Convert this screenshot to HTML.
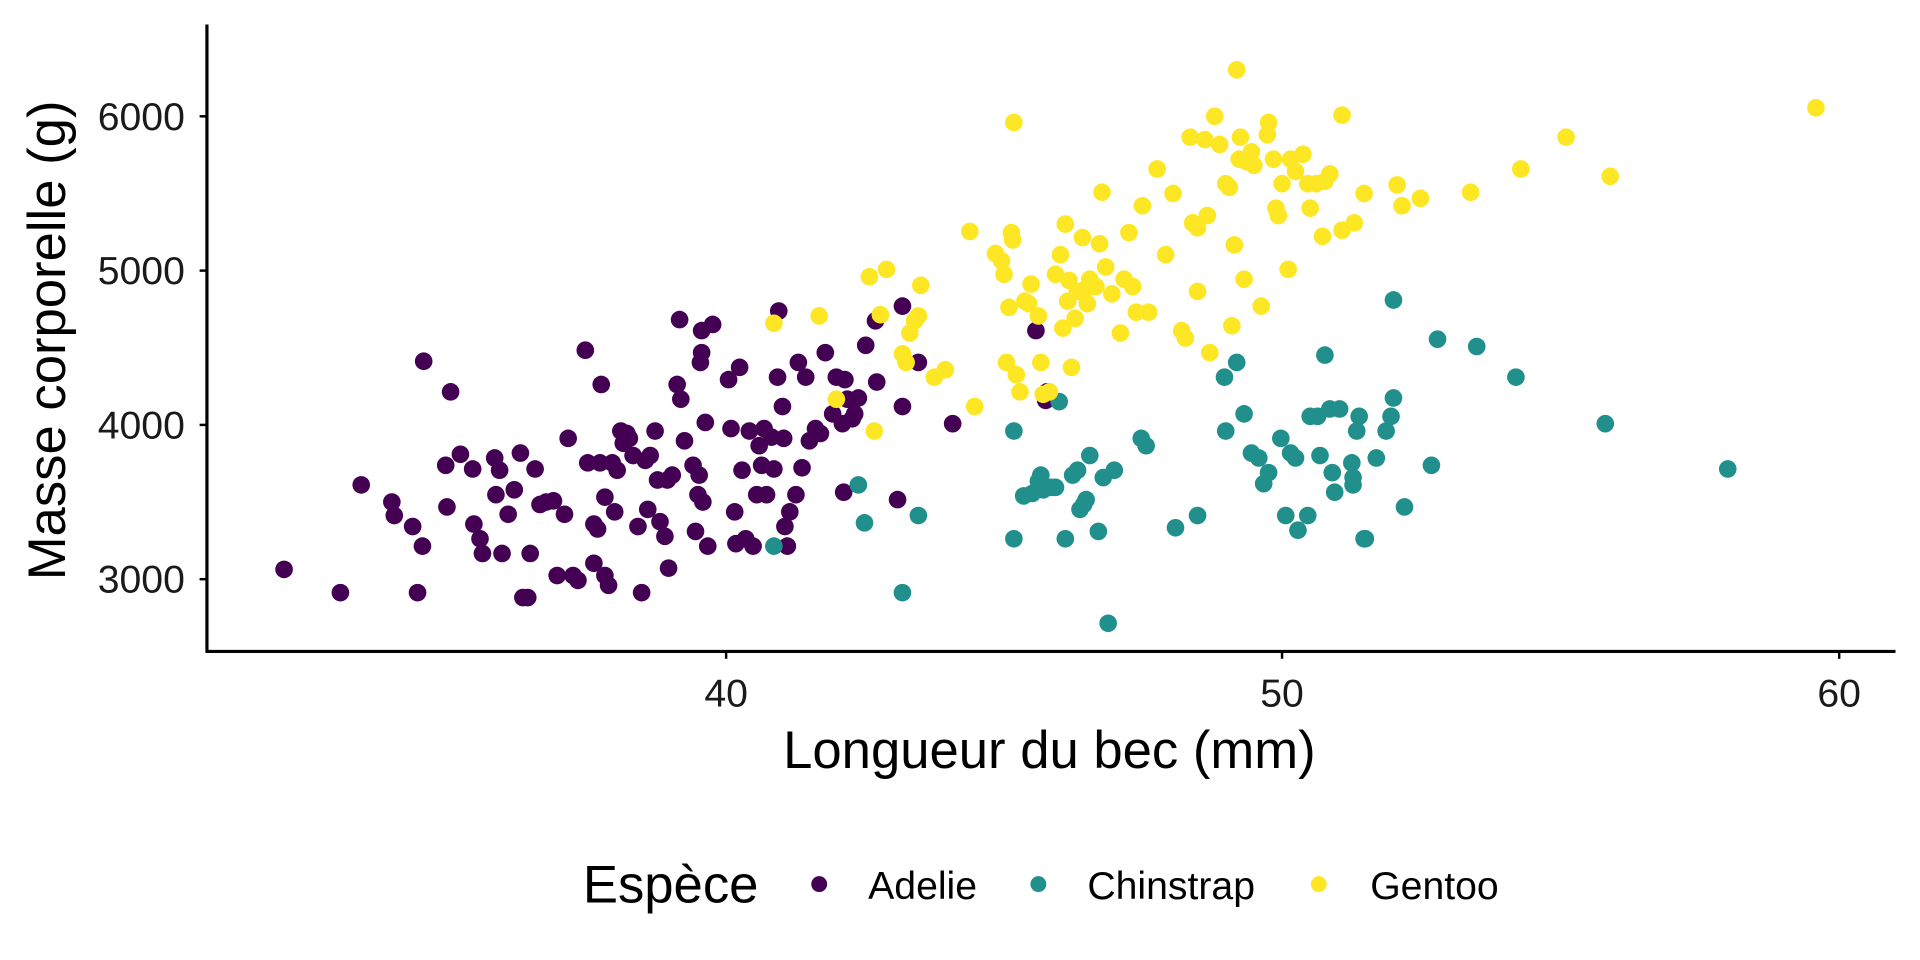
<!DOCTYPE html>
<html><head><meta charset="utf-8"><style>
html,body{margin:0;padding:0;background:#fff;}
svg{display:block;}
text{font-family:"Liberation Sans",Arial,sans-serif;}
</style></head><body>
<svg id="s" width="1920" height="960" viewBox="0 0 1568 784" xmlns="http://www.w3.org/2000/svg">
<rect width="1568" height="784" fill="#fff"/>
<g id="pts"></g>
<line x1="169" y1="20" x2="169" y2="533" stroke="#000" stroke-width="2.6"/>
<line x1="168" y1="532" x2="1548" y2="532" stroke="#000" stroke-width="2.6"/>
<g stroke="#000" stroke-width="2">
<line x1="163" y1="95" x2="169" y2="95"/><line x1="163" y1="221" x2="169" y2="221"/>
<line x1="163" y1="347" x2="169" y2="347"/><line x1="163" y1="473" x2="169" y2="473"/>
<line x1="593" y1="532" x2="593" y2="538"/><line x1="1047" y1="532" x2="1047" y2="538"/><line x1="1502" y1="532" x2="1502" y2="538"/>
</g>
<g font-size="32" fill="#1a1a1a" text-anchor="end">
<text x="151" y="106">6000</text><text x="151" y="232">5000</text>
<text x="151" y="358">4000</text><text x="151" y="484">3000</text>
</g>
<g font-size="32" fill="#1a1a1a" text-anchor="middle">
<text x="593" y="577">40</text><text x="1047" y="577">50</text><text x="1502" y="577">60</text>
</g>
<text x="857" y="627" font-size="43" text-anchor="middle">Longueur du bec (mm)</text>
<text transform="translate(53,278) rotate(-90)" font-size="43" text-anchor="middle">Masse corporelle (g)</text>
<text x="476" y="737" font-size="43">Espèce</text>
<circle cx="669" cy="722" r="6.5" fill="#440154"/>
<text x="709" y="734" font-size="32">Adelie</text>
<circle cx="848" cy="722" r="6.5" fill="#21908C"/>
<text x="888" y="734" font-size="32">Chinstrap</text>
<circle cx="1077" cy="722" r="6.5" fill="#FDE725"/>
<text x="1119" y="734" font-size="32">Gentoo</text>
</svg>
<script>
var A=[[232,465],[278,484],[295,396],[341,484],[346,295],[368,320],[320,410],[322,421],[337,430],[345,446],[364,380],[365,414],[376,371],[386,383],[387,428],[392,440],[394,452],[404,374],[405,404],[408,384],[410,452],[415,420],[420,400],[425,370],[427,488],[431,488],[433,452],[437,383],[441,412],[446,410],[452,409],[455,470],[461,420],[464,358],[468,470],[472,474],[478,286],[480,378],[485,428],[485,460],[488,432],[491,314],[490,378],[494,470],[494,406],[497,478],[500,378],[502,418],[504,384],[507,352],[509,362],[512,354],[514,358],[517,372],[521,430],[524,484],[527,376],[529,416],[531,372],[535,352],[537,392],[539,426],[543,438],[545,392],[546,464],[549,388],[553,314],[555,261],[556,326],[559,360],[566,380],[568,434],[570,404],[571,388],[573,270],[572,296],[573,288],[574,410],[576,345],[578,446],[582,265],[595,310],[597,350],[600,418],[601,444],[604,300],[606,384],[609,440],[612,352],[615,446],[618,404],[620,364],[622,380],[624,350],[626,404],[630,357],[632,383],[635,308],[636,254],[639,332],[640,358],[641,430],[643,446],[645,418],[650,404],[652,296],[655,382],[658,308],[661,360],[666,350],[670,354],[674,288],[680,338],[683,308],[688,346],[689,402],[690,310],[692,326],[696,342],[698,338],[701,325],[707,282],[715,262],[716,312],[733,408],[737,332],[737,250],[750,296],[778,346],[846,270],[855,320],[854,327]];
var C=[[632,446],[701,396],[706,427],[737,484],[750,421],[828,352],[828,440],[836,405],[843,403],[848,393],[850,388],[852,400],[858,398],[862,398],[865,328],[870,440],[876,388],[880,384],[882,416],[885,412],[887,408],[890,372],[897,434],[901,390],[910,384],[932,358],[936,364],[960,431],[978,421],[1000,308],[1001,352],[1010,296],[1016,338],[1022,370],[1028,374],[1032,395],[1036,386],[1046,358],[1050,421],[1054,370],[1058,374],[1060,433],[1068,421],[1070,340],[1076,340],[1078,372],[1082,290],[1086,334],[1088,386],[1090,402],[1094,334],[1104,378],[1105,396],[1108,352],[1110,340],[1114,440],[1124,374],[1132,352],[1136,340],[1138,325],[1138,245],[1147,414],[1169,380],[1174,277],[1206,283],[1238,308],[1311,346],[1411,383],[905,509],[1105,390],[1115,440]];
var G=[[632,264],[669,258],[683,326],[710,226],[714,352],[719,257],[724,220],[737,289],[740,296],[743,272],[747,262],[750,258],[752,233],[763,308],[772,302],[792,189],[796,332],[813,207],[818,213],[820,224],[824,251],[826,190],[827,196],[828,100],[822,296],[830,306],[833,320],[837,246],[840,248],[842,232],[848,258],[850,296],[852,322],[857,320],[862,224],[866,208],[868,268],[870,183],[872,246],[873,229],[875,300],[878,260],[880,238],[884,194],[885,237],[888,248],[890,228],[893,234],[895,234],[898,199],[900,157],[903,218],[908,240],[915,272],[918,228],[922,190],[925,234],[928,255],[933,168],[938,255],[945,138],[952,208],[958,158],[965,270],[968,276],[972,112],[974,182],[978,186],[978,238],[984,114],[986,176],[988,288],[992,95],[996,118],[1001,150],[1004,153],[1006,266],[1008,200],[1010,57],[1013,112],[1016,228],[1018,132],[1022,124],[1024,135],[1030,250],[1036,100],[1040,130],[1042,170],[1044,176],[1047,150],[1052,220],[1054,130],[1058,140],[1064,126],[1068,150],[1070,170],[1075,150],[1080,193],[1082,148],[1086,142],[1096,94],[1096,188],[1106,182],[1114,158],[1141,151],[1145,168],[1160,162],[1201,157],[1242,138],[1279,112],[1315,144],[1483,88],[1035,110],[1012,130]];
var g=document.getElementById('pts'),h='';
[[A,'#440154'],[C,'#21908C'],[G,'#FDE725']].forEach(function(s){s[0].forEach(function(p){h+='<circle cx="'+p[0]+'" cy="'+p[1]+'" r="7.2" fill="'+s[1]+'"/>';});});
g.innerHTML=h;
</script>
</body></html>
